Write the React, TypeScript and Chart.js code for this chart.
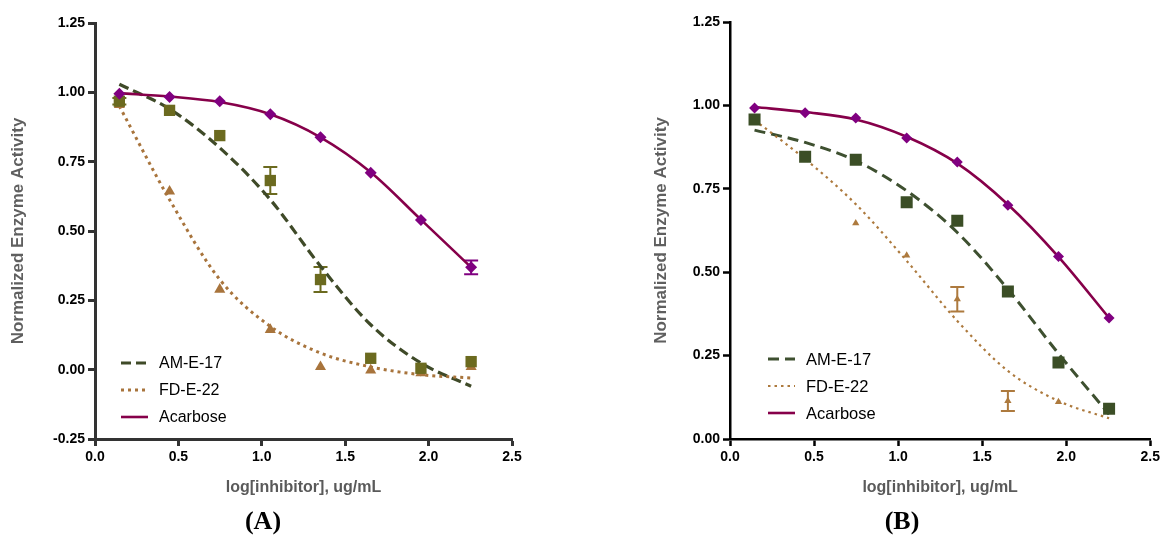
import React, { useEffect, useRef } from 'react';
import { Chart, registerables } from 'chart.js';

Chart.register(...registerables);

// ---------- DATA ----------
const logConc = [0.146, 0.447, 0.748, 1.051, 1.352, 1.653, 1.954, 2.255];
const seriesNames = ['AM-E-17', 'FD-E-22', 'Acarbose'];
const xTicks = [0, 0.5, 1.0, 1.5, 2.0, 2.5];
const yTicksA = [-0.25, 0, 0.25, 0.5, 0.75, 1.0, 1.25];
const yTicksB = [0, 0.25, 0.5, 0.75, 1.0, 1.25];
const xTitle = 'log[inhibitor], ug/mL';
const yTitle = 'Normalized Enzyme Activity';
const panelLabels = ['(A)', '(B)'];

// Panel A measured points
const aAmE17 = [0.968, 0.935, 0.844, 0.682, 0.325, 0.041, 0.005, 0.029];
const aAmE17Err = [0.012, 0, 0, 0.049, 0.045, 0, 0, 0];
const aFdE22 = [0.955, 0.643, 0.289, 0.144, 0.01, -0.002, -0.012, 0.01];
const aFdE22Err = [0, 0, 0, 0, 0, 0, 0, 0];
const aAcarbose = [0.995, 0.983, 0.968, 0.921, 0.838, 0.71, 0.54, 0.369];
const aAcarboseErr = [0, 0, 0, 0, 0, 0, 0, 0.025];
// Panel A fitted curves (at the same concentrations)
const aAmE17Fit = [1.029, 0.94, 0.8, 0.613, 0.373, 0.162, 0.024, -0.06];
const aFdE22Fit = [0.95, 0.613, 0.325, 0.156, 0.06, 0.01, -0.018, -0.03];
const aAcarboseFit = [0.997, 0.985, 0.965, 0.921, 0.838, 0.712, 0.541, 0.369];

// Panel B measured points
const bAmE17 = [0.958, 0.846, 0.837, 0.71, 0.654, 0.442, 0.229, 0.091];
const bAmE17Err = [0, 0, 0, 0, 0, 0, 0, 0];
const bFdE22 = [0.955, 0.845, 0.647, 0.55, 0.419, 0.114, 0.111, 0.085];
const bFdE22Err = [0, 0, 0, 0, 0.037, 0.03, 0, 0];
const bAcarbose = [0.992, 0.978, 0.962, 0.902, 0.83, 0.701, 0.547, 0.363];
const bAcarboseErr = [0, 0, 0, 0, 0, 0, 0, 0];
// Panel B fitted curves
const bAmE17Fit = [0.926, 0.889, 0.834, 0.744, 0.619, 0.449, 0.256, 0.074];
const bFdE22Fit = [0.956, 0.839, 0.704, 0.534, 0.354, 0.204, 0.114, 0.062];
const bAcarboseFit = [0.995, 0.98, 0.958, 0.906, 0.826, 0.703, 0.546, 0.363];

// ---------- HELPERS ----------
const toXY = (ys: number[]) => ys.map((y, i) => ({ x: logConc[i], y }));

const errorBarPlugin = {
  id: 'errorBars',
  beforeDatasetsDraw(chart: any) {
    const { ctx } = chart;
    const xs = chart.scales.x;
    const ys = chart.scales.y;
    chart.data.datasets.forEach((ds: any) => {
      if (!ds.errors) return;
      ctx.save();
      ctx.strokeStyle = ds.errColor || ds.backgroundColor;
      ctx.lineWidth = ds.errWidth || 2;
      ds.data.forEach((p: any, i: number) => {
        const e = ds.errors[i];
        if (!e) return;
        const px = xs.getPixelForValue(p.x);
        const top = ys.getPixelForValue(p.y + e);
        const bot = ys.getPixelForValue(p.y - e);
        const cap = ds.capHalf || 7;
        ctx.beginPath();
        ctx.moveTo(px, top);
        ctx.lineTo(px, bot);
        ctx.moveTo(px - cap, top);
        ctx.lineTo(px + cap, top);
        ctx.moveTo(px - cap, bot);
        ctx.lineTo(px + cap, bot);
        ctx.stroke();
      });
      ctx.restore();
    });
  },
};

const legendPlugin = {
  id: 'insideLegend',
  afterDraw(chart: any, _args: any, opts: any) {
    if (!opts || !opts.items) return;
    const { ctx } = chart;
    ctx.save();
    opts.items.forEach((it: any, i: number) => {
      const y = opts.y + i * opts.gap;
      ctx.beginPath();
      ctx.setLineDash(it.dash || []);
      ctx.lineWidth = it.width;
      ctx.strokeStyle = it.color;
      ctx.moveTo(opts.x, y);
      ctx.lineTo(opts.x + opts.lineLen, y);
      ctx.stroke();
      ctx.setLineDash([]);
      ctx.fillStyle = '#000';
      ctx.font = opts.font;
      ctx.textBaseline = 'middle';
      ctx.textAlign = 'left';
      ctx.fillText(it.label, opts.x + opts.lineLen + opts.textGap, y + 1);
    });
    ctx.restore();
  },
};

type PanelCfg = {
  left: number;
  width: number;
  yAxisWidth: number;
  padTop: number;
  padRight: number;
  xAxisHeight: number;
  yMin: number;
  yMax: number;
  yTicks: number[];
  axisColor: string;
  axisWidth: number;
  yTitlePad: number;
  points: number[][];
  errs: number[][];
  fits: number[][];
  markerColors: string[];
  lineColors: string[];
  dashes: number[][];
  lineWidths: number[];
  radii: number[];
  legend: { x: number; y: number; gap: number; font: string };
};

function Panel({ cfg }: { cfg: PanelCfg }) {
  const ref = useRef<HTMLCanvasElement | null>(null);
  useEffect(() => {
    if (!ref.current) return;
    const styles = ['rect', 'triangle', 'rectRot'];
    const datasets: any[] = [];
    // fitted curves
    cfg.fits.forEach((f, i) => {
      datasets.push({
        type: 'line',
        label: seriesNames[i] + ' fit',
        data: toXY(f),
        showLine: true,
        borderColor: cfg.lineColors[i],
        borderWidth: cfg.lineWidths[i],
        borderDash: cfg.dashes[i],
        pointRadius: 0,
        fill: false,
        cubicInterpolationMode: 'monotone',
        order: 10 - i,
      });
    });
    // measured points
    cfg.points.forEach((p, i) => {
      datasets.push({
        type: 'scatter',
        label: seriesNames[i],
        data: toXY(p),
        showLine: false,
        pointStyle: styles[i],
        pointRadius: cfg.radii[i],
        backgroundColor: cfg.markerColors[i],
        borderColor: cfg.markerColors[i],
        borderWidth: 0,
        errors: cfg.errs[i],
        errColor: cfg.markerColors[i],
        capHalf: 7,
        order: i === 0 ? 2 : i === 1 ? 3 : 1,
      });
    });

    const tickFont = { family: "'Liberation Sans', Arial, sans-serif", size: 14, weight: 'bold' as const };
    const chart = new Chart(ref.current, {
      type: 'scatter',
      data: { datasets },
      plugins: [errorBarPlugin, legendPlugin],
      options: {
        animation: false,
        responsive: false,
        devicePixelRatio: 1,
        layout: { padding: { left: 0, top: cfg.padTop, right: cfg.padRight, bottom: 0 } },
        plugins: {
          legend: { display: false },
          tooltip: { enabled: false },
          insideLegend: {
            x: cfg.legend.x,
            y: cfg.legend.y,
            gap: cfg.legend.gap,
            lineLen: 27,
            textGap: 11,
            font: cfg.legend.font,
            items: seriesNames.map((n, i) => ({
              label: n,
              color: cfg.lineColors[i],
              dash: cfg.dashes[i],
              width: cfg.lineWidths[i],
            })),
          },
        } as any,
        scales: {
          x: {
            type: 'linear',
            min: xTicks[0],
            max: xTicks[xTicks.length - 1],
            afterFit: (s: any) => {
              s.height = cfg.xAxisHeight;
            },
            afterBuildTicks: (s: any) => {
              s.ticks = xTicks.map((v) => ({ value: v }));
            },
            ticks: {
              color: '#000',
              font: tickFont,
              padding: 3,
              callback: (v: any) => Number(v).toFixed(1),
            },
            grid: {
              display: true,
              drawOnChartArea: false,
              drawTicks: true,
              tickLength: 7,
              tickWidth: cfg.axisWidth,
              tickColor: cfg.axisColor,
            },
            border: { display: true, color: cfg.axisColor, width: cfg.axisWidth },
            title: {
              display: true,
              text: xTitle,
              color: '#5a5a5a',
              font: { family: "'Liberation Sans', Arial, sans-serif", size: 16, weight: 'bold' },
              padding: { top: 0, bottom: 47 },
            },
          },
          y: {
            type: 'linear',
            min: cfg.yMin,
            max: cfg.yMax,
            afterFit: (s: any) => {
              s.width = cfg.yAxisWidth;
            },
            afterBuildTicks: (s: any) => {
              s.ticks = cfg.yTicks.map((v) => ({ value: v }));
            },
            ticks: {
              color: '#000',
              font: tickFont,
              padding: 3,
              callback: (v: any) => Number(v).toFixed(2),
            },
            grid: {
              display: true,
              drawOnChartArea: false,
              drawTicks: true,
              tickLength: 7,
              tickWidth: cfg.axisWidth,
              tickColor: cfg.axisColor,
            },
            border: { display: true, color: cfg.axisColor, width: cfg.axisWidth },
            title: {
              display: true,
              text: yTitle,
              color: '#5f5f5f',
              font: { family: "'Liberation Sans', Arial, sans-serif", size: 17, weight: 'bold' },
              padding: { top: cfg.yTitlePad, bottom: 0 },
            },
          },
        },
      } as any,
    });
    return () => chart.destroy();
  }, [cfg]);
  return (
    <canvas
      ref={ref}
      width={cfg.width}
      height={544}
      style={{ position: 'absolute', left: cfg.left, top: 0, width: cfg.width, height: 544 }}
    />
  );
}

const cfgA: PanelCfg = {
  left: 0,
  width: 600,
  yAxisWidth: 95,
  padTop: 23,
  padRight: 88,
  xAxisHeight: 105,
  yMin: -0.25,
  yMax: 1.25,
  yTicks: yTicksA,
  axisColor: '#333333',
  axisWidth: 3,
  yTitlePad: 8,
  points: [aAmE17, aFdE22, aAcarbose],
  errs: [aAmE17Err, aFdE22Err, aAcarboseErr],
  fits: [aAmE17Fit, aFdE22Fit, aAcarboseFit],
  markerColors: ['#6b6a1f', '#a8743c', '#800080'],
  lineColors: ['#3f4a28', '#a8743c', '#86004a'],
  dashes: [[10, 5], [3, 4], []],
  lineWidths: [3.2, 3, 2.6],
  radii: [8, 6.4, 6],
  legend: { x: 121, y: 363, gap: 27, font: "16px 'Liberation Sans', Arial, sans-serif" },
};

const cfgB: PanelCfg = {
  left: 640,
  width: 523,
  yAxisWidth: 90,
  padTop: 22,
  padRight: 11,
  xAxisHeight: 105,
  yMin: 0,
  yMax: 1.25,
  yTicks: yTicksB,
  axisColor: '#000000',
  axisWidth: 2.5,
  yTitlePad: 11,
  points: [bAmE17, bFdE22, bAcarbose],
  errs: [bAmE17Err, bFdE22Err, bAcarboseErr],
  fits: [bAmE17Fit, bFdE22Fit, bAcarboseFit],
  markerColors: ['#3b4e26', '#ad7a3e', '#800080'],
  lineColors: ['#3e5030', '#ad7a3e', '#86004a'],
  dashes: [[11, 6], [2.5, 4], []],
  lineWidths: [3, 2.2, 2.6],
  radii: [8.5, 4.2, 5.5],
  legend: { x: 128, y: 359, gap: 27, font: "16.5px 'Liberation Sans', Arial, sans-serif" },
};

export default function App() {
  const labelStyle = (x: number): React.CSSProperties => ({
    position: 'absolute',
    left: x,
    top: 521,
    transform: 'translate(-50%, -50%)',
    fontFamily: "'Liberation Serif', 'Times New Roman', serif",
    fontWeight: 'bold',
    fontSize: 26,
    lineHeight: 1,
    color: '#000',
    whiteSpace: 'nowrap',
  });
  return (
    <div style={{ position: 'absolute', left: 0, top: 0, width: 1163, height: 544, background: '#fff', overflow: 'hidden' }}>
      <Panel cfg={cfgA} />
      <Panel cfg={cfgB} />
      <div style={labelStyle(263)}>{panelLabels[0]}</div>
      <div style={labelStyle(902)}>{panelLabels[1]}</div>
    </div>
  );
}
